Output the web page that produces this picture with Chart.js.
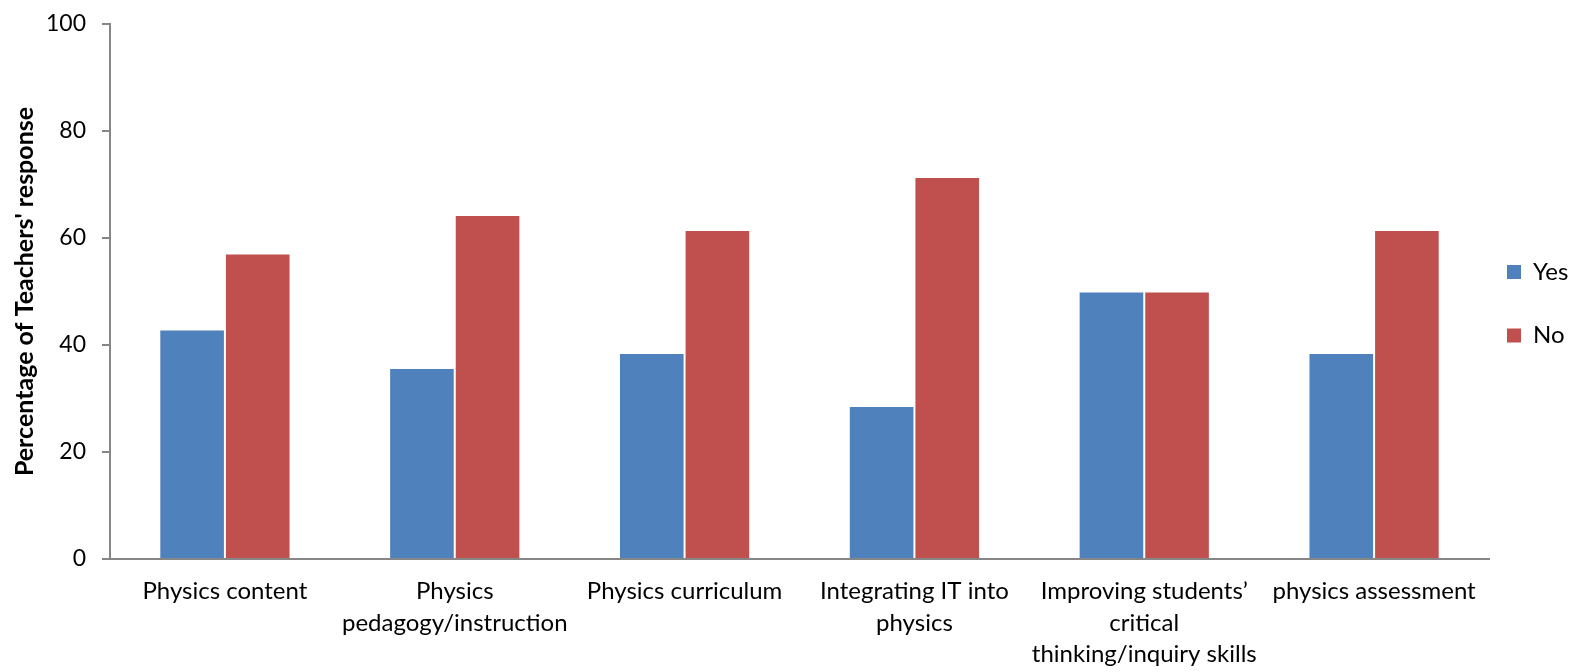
<html>
<head>
<script src="https://cdn.jsdelivr.net/npm/chart.js@4.4.0/dist/chart.umd.min.js"></script>
<style>
  body { margin: 0; background: #fff; }
  #wrap { width: 1570px; height: 672px; }
</style>
</head>
<body>
<div id="wrap"><canvas id="c" width="1570" height="672"></canvas></div>
<script>
// categories and values
var categories = [
  'Physics content',
  ['Physics', 'pedagogy/instruction'],
  'Physics curriculum',
  ['Integrating IT into', 'physics'],
  ['Improving students\u2019', 'critical', 'thinking/inquiry skills'],
  'physics assessment'
];
var yesValues = [42.9, 35.7, 38.5, 28.6, 50, 38.5];
var noValues = [57.1, 64.3, 61.5, 71.4, 50, 61.5];
var yTicks = [0, 20, 40, 60, 80, 100];

var axisGrey = '#868686';
var font = 'Lato, "Liberation Sans", sans-serif';

// moves the legend column to the far right, like the original
var legendNudge = {
  id: 'legendNudge',
  afterLayout: function (chart) {
    var lg = chart.legend;
    if (!lg) return;
    var w = lg.width, h = lg.height;
    lg.left = 1467.5; lg.right = lg.left + w;
    lg.top = 220.5; lg.bottom = lg.top + h;
  }
};

var ctx = document.getElementById('c').getContext('2d');
var chart = new Chart(ctx, {
  type: 'bar',
  data: {
    labels: categories,
    datasets: [
      { label: 'Yes', data: yesValues, backgroundColor: '#4F81BD',
        borderColor: 'rgba(255,255,255,0.25)', borderWidth: 1, borderSkipped: 'bottom' },
      { label: 'No', data: noValues, backgroundColor: '#C0504D',
        borderColor: 'rgba(255,255,255,0.25)', borderWidth: 1, borderSkipped: 'bottom' }
    ]
  },
  options: {
    responsive: false,
    animation: false,
    layout: { padding: { left: 0, top: 24, right: 0, bottom: 0 } },
    datasets: { bar: { categoryPercentage: 0.571, barPercentage: 1 } },
    plugins: {
      tooltip: { enabled: false },
      legend: {
        position: 'right',
        align: 'start',
        labels: {
          boxWidth: 14, boxHeight: 14, padding: 39.5,
          color: '#000',
          font: { family: font, size: 24 },
          generateLabels: function (chart) {
            return chart.data.datasets.map(function (ds, i) {
              return { text: ds.label, fillStyle: ds.backgroundColor, strokeStyle: ds.backgroundColor,
                       lineWidth: 0, hidden: false, datasetIndex: i };
            });
          }
        }
      }
    },
    scales: {
      x: {
        grid: { display: false, drawTicks: false },
        border: { color: axisGrey, width: 2 },
        ticks: {
          color: '#000', padding: 17, maxRotation: 0, autoSkip: false,
          font: { family: font, size: 24, lineHeight: 1.31 }
        },
        afterFit: function (s) { s.height = 113; }
      },
      y: {
        min: 0, max: 100,
        grid: { drawOnChartArea: false, drawTicks: true, tickLength: 8, color: axisGrey, lineWidth: 2 },
        border: { color: axisGrey, width: 2 },
        afterBuildTicks: function (s) { s.ticks = yTicks.map(function (v) { return { value: v }; }); },
        ticks: {
          color: '#000', padding: 16,
          font: { family: font, size: 23 }
        },
        title: {
          display: true,
          text: "Percentage of Teachers' response",
          color: '#000',
          padding: { top: 10, bottom: 0 },
          font: { family: font, size: 25, weight: 'bold' }
        },
        afterFit: function (s) {
          s.width = 110;
          // tick padding should not push the plot down
          s.paddingTop = 0;
          s.paddingBottom = 0;
        }
      }
    }
  },
  plugins: [legendNudge]
});

// keep the plot's right edge at the same spot as the original
chart.options.layout.padding.right = 1570 - 1489 - chart.legend.width;
chart.update();
</script>
</body>
</html>
